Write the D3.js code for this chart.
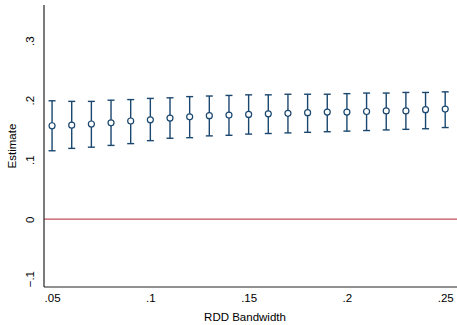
<!DOCTYPE html>
<html>
<head>
<meta charset="utf-8">
<script src="https://cdn.jsdelivr.net/npm/d3@7"></script>
<style>
  body { margin: 0; background: #fff; }
  text { font-family: "Liberation Sans", Arial, sans-serif; fill: #000; }
</style>
</head>
<body>
<script>
// bandwidths and point estimates with confidence bounds
var bandwidths = [0.05, 0.06, 0.07, 0.08, 0.09, 0.10, 0.11, 0.12, 0.13, 0.14, 0.15,
                  0.16, 0.17, 0.18, 0.19, 0.20, 0.21, 0.22, 0.23, 0.24, 0.25];
var estimates = [0.157, 0.158, 0.160, 0.162, 0.165, 0.167, 0.170, 0.172, 0.174, 0.175, 0.176,
                 0.177, 0.178, 0.179, 0.180, 0.180, 0.181, 0.182, 0.182, 0.184, 0.185];
var upper = [0.199, 0.198, 0.198, 0.200, 0.201, 0.203, 0.204, 0.206, 0.207, 0.208, 0.209,
             0.209, 0.210, 0.210, 0.210, 0.211, 0.212, 0.212, 0.213, 0.213, 0.214];
var lower = [0.115, 0.119, 0.121, 0.124, 0.127, 0.132, 0.136, 0.137, 0.140, 0.141, 0.143,
             0.144, 0.145, 0.146, 0.147, 0.148, 0.149, 0.150, 0.151, 0.152, 0.154];
var xTicks = [0.05, 0.1, 0.15, 0.2, 0.25];
var xTickLabels = [".05", ".1", ".15", ".2", ".25"];
var yTicks = [-0.1, 0, 0.1, 0.2, 0.3];
var yTickLabels = ["\u2212.1", "0", ".1", ".2", ".3"];

var w = 457, h = 325;
var margin = {top: 5, right: 0, bottom: 38, left: 44};

var svg = d3.select("body").append("svg")
            .attr("width", w)
            .attr("height", h);

var xScale = d3.scaleLinear()
               .domain([0.0459, 0.2560])
               .range([margin.left, w - margin.right]);

var yScale = d3.scaleLinear()
               .domain([-0.114, 0.360])
               .range([h - margin.bottom, margin.top]);

var navy = "#1a476f";

// zero reference line
svg.append("line")
   .attr("x1", margin.left).attr("x2", w)
   .attr("y1", yScale(0)).attr("y2", yScale(0))
   .style("stroke", "#c0505a")
   .style("stroke-width", 1.2);

// axes (no tick marks, just line + labels)
var xAxis = d3.axisBottom(xScale)
              .tickValues(xTicks)
              .tickFormat(function(d, i) { return xTickLabels[i]; })
              .tickSize(0)
              .tickPadding(7);

var yAxis = d3.axisLeft(yScale)
              .tickValues(yTicks)
              .tickFormat(function(d, i) { return yTickLabels[i]; })
              .tickSize(0);

var gx = svg.append("g")
   .attr("transform", "translate(0," + (h - margin.bottom) + ")")
   .call(xAxis);
gx.select(".domain").attr("d", "M" + margin.left + ",0H" + w).style("stroke", "#222").style("stroke-width", 1.2);
gx.selectAll("text").style("font-size", "11.5px");

var gy = svg.append("g")
   .attr("transform", "translate(" + margin.left + ",0)")
   .call(yAxis);
gy.select(".domain").attr("d", "M0," + margin.top + "V" + (h - margin.bottom)).style("stroke", "#222").style("stroke-width", 1.2);
gy.selectAll("text")
  .attr("x", null).attr("dy", null)
  .style("font-size", "11.5px")
  .style("text-anchor", "middle")
  .attr("transform", "translate(-10,0) rotate(-90)");

// axis titles
svg.append("text")
   .attr("x", 245)
   .attr("y", 321)
   .style("text-anchor", "middle")
   .style("font-size", "11.5px")
   .text("RDD Bandwidth");

svg.append("text")
   .attr("transform", "translate(16," + ((margin.top + h - margin.bottom) / 2) + ") rotate(-90)")
   .style("text-anchor", "middle")
   .style("font-size", "11.5px")
   .text("Estimate");

// error bars
var rows = bandwidths.map(function(b, i) {
  return {x: b, est: estimates[i], hi: upper[i], lo: lower[i]};
});

var bars = svg.append("g").selectAll("g")
   .data(rows)
   .enter()
   .append("g");

bars.append("line")
    .attr("x1", function(d) { return xScale(d.x); })
    .attr("x2", function(d) { return xScale(d.x); })
    .attr("y1", function(d) { return yScale(d.hi); })
    .attr("y2", function(d) { return yScale(d.lo); })
    .style("stroke", navy).style("stroke-width", 1.4);

["hi", "lo"].forEach(function(k) {
  bars.append("line")
      .attr("x1", function(d) { return xScale(d.x) - 3.5; })
      .attr("x2", function(d) { return xScale(d.x) + 3.5; })
      .attr("y1", function(d) { return yScale(d[k]); })
      .attr("y2", function(d) { return yScale(d[k]); })
      .style("stroke", navy).style("stroke-width", 1.4);
});

bars.append("circle")
    .attr("cx", function(d) { return xScale(d.x); })
    .attr("cy", function(d) { return yScale(d.est); })
    .attr("r", 3)
    .style("fill", "#fff")
    .style("stroke", navy)
    .style("stroke-width", 1.2);
</script>
</body>
</html>
